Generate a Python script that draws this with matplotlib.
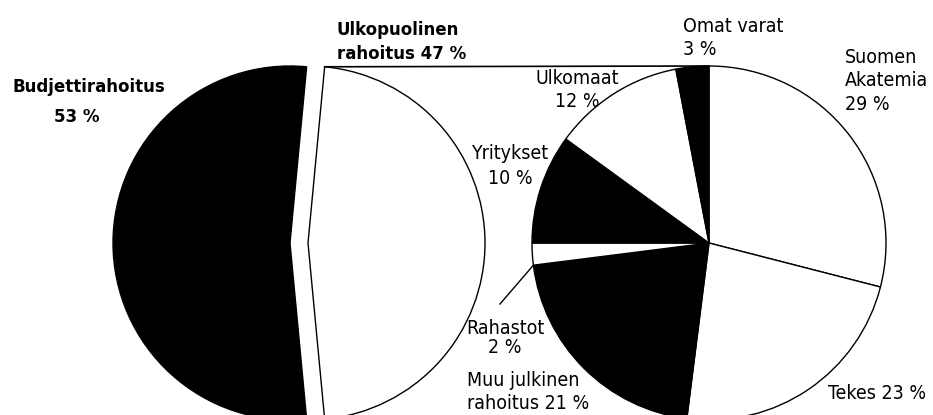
import numpy as np
import matplotlib
matplotlib.use('Agg')
from matplotlib import pyplot as plt

# funding split, left pie
main_labels = ['Budjettirahoitus', 'Ulkopuolinen\nrahoitus']
main_share = [53, 47]
main_colors = ['black', 'white']

# external funding breakdown, right pie (clockwise from top)
ext_labels = ['Suomen\nAkatemia', 'Tekes', 'Muu julkinen\nrahoitus', 'Rahastot',
              'Yritykset', 'Ulkomaat', 'Omat varat']
ext_share = [29, 23, 21, 2, 10, 12, 3]
ext_colors = ['white', 'white', 'black', 'white', 'black', 'white', 'black']

plt.rcParams['font.family'] = ['DejaVu Sans']
plt.rcParams['font.stretch'] = 'condensed'

W, H = 933, 415
R = 177
left_c = (290, H - 243)
right_c = (709, H - 243)

fig = plt.figure(figsize=(W / 100, H / 100), dpi=100)
ax = fig.add_axes([0, 0, 1, 1])

# left pie: white part pushed out to the right (explode is in data units here)
start = 90 - (main_share[0] / 100 - 0.5) * 180
gap = 18
ax.pie(main_share, colors=main_colors, startangle=start, counterclock=True,
       explode=[0, gap], radius=R, center=left_c, frame=True,
       wedgeprops=dict(edgecolor='black', linewidth=1.0))

ax.pie(ext_share, colors=ext_colors, startangle=90, counterclock=False,
       radius=R, center=right_c, frame=True,
       wedgeprops=dict(edgecolor='black', linewidth=1.0))

# connector from the top of the white wedge to the top of the right pie
a = np.radians(start)
x0 = left_c[0] + gap + R * np.cos(a)
y0 = left_c[1] + R * np.sin(a)
ax.plot([x0, right_c[0]], [y0, right_c[1] + R], color='black', lw=1.2)

def ty(y):
    return H - y

fs = 14
fb = 13.3
ax.text(89, ty(87), main_labels[0], ha='center', va='center', fontsize=fb, fontweight='bold')
ax.text(77, ty(117), f'{main_share[0]} %', ha='center', va='center', fontsize=fb, fontweight='bold')
ax.text(337, ty(42), f'{main_labels[1]} {main_share[1]} %', ha='left', va='center',
        fontsize=fb, fontweight='bold', linespacing=1.4)

ax.text(845, ty(81), f'{ext_labels[0]}\n{ext_share[0]} %', ha='left', va='center',
        fontsize=fs, linespacing=1.3)
ax.text(828, ty(393), f'{ext_labels[1]} {ext_share[1]} %', ha='left', va='center', fontsize=fs)
ax.text(467, ty(392), f'{ext_labels[2]} {ext_share[2]} %', ha='left', va='center',
        fontsize=fs, linespacing=1.27)
ax.text(505, ty(338), f'{ext_labels[3]}\n{ext_share[3]} %', ha='center', va='center',
        fontsize=fs, linespacing=1.05)
ax.text(510, ty(166), f'{ext_labels[4]}\n{ext_share[4]} %', ha='center', va='center',
        fontsize=fs, linespacing=1.46)
ax.text(577, ty(90), f'{ext_labels[5]}\n{ext_share[5]} %', ha='center', va='center',
        fontsize=fs, linespacing=1.25)
ax.text(683, ty(38), f'{ext_labels[6]}\n{ext_share[6]} %', ha='left', va='center',
        fontsize=fs, linespacing=1.3)

# leader line for Rahastot
b = np.radians(90 - sum(ext_share[:3]) / 100 * 360)
ax.plot([500, right_c[0] + R * np.cos(b)], [ty(304), right_c[1] + R * np.sin(b)],
        color='black', lw=1.0)

ax.set_xlim(0, W)
ax.set_ylim(0, H)
ax.set_aspect('equal')
ax.axis('off')

fig.savefig('out.png', dpi=100)
